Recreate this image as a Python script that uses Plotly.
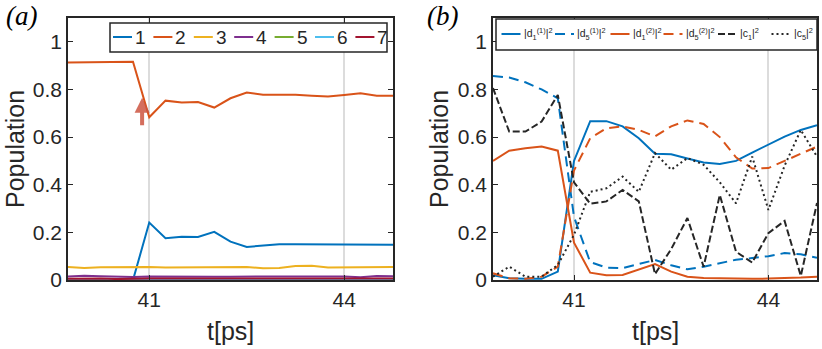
import plotly.graph_objects as go

# time axis (ps), shared by both panels
t = [39.75, 40.0, 40.25, 40.5, 40.75, 41.0, 41.25, 41.5, 41.75, 42.0, 42.25,
     42.5, 42.75, 43.0, 43.25, 43.5, 43.75, 44.0, 44.25, 44.5, 44.75]

# panel (a): populations of states 1..7
pop1 = [0.0, 0.0, 0.0, 0.0, 0.0, 0.241, 0.175, 0.182, 0.181, 0.202, 0.161,
        0.139, 0.146, 0.150, 0.150, 0.150, 0.150, 0.150, 0.149, 0.148, 0.148]
pop2 = [0.913, 0.914, 0.914, 0.915, 0.916, 0.683, 0.753, 0.745, 0.747, 0.724, 0.763,
        0.787, 0.778, 0.778, 0.778, 0.774, 0.770, 0.777, 0.784, 0.774, 0.774]
pop3 = [0.055, 0.050, 0.054, 0.055, 0.057, 0.055, 0.052, 0.052, 0.053, 0.053, 0.055,
        0.055, 0.049, 0.050, 0.059, 0.060, 0.052, 0.052, 0.053, 0.055, 0.055]
pop4 = [0.015, 0.018, 0.016, 0.014, 0.013, 0.015, 0.014, 0.016, 0.013, 0.014, 0.014,
        0.014, 0.015, 0.017, 0.015, 0.014, 0.016, 0.015, 0.012, 0.017, 0.016]
pop5 = [0.002, 0.002, 0.002, 0.002, 0.002, 0.002, 0.002, 0.002, 0.002, 0.002, 0.002,
        0.002, 0.002, 0.002, 0.002, 0.002, 0.002, 0.002, 0.002, 0.002, 0.002]
pop6 = [0.001, 0.001, 0.001, 0.001, 0.001, 0.001, 0.001, 0.001, 0.001, 0.001, 0.001,
        0.001, 0.001, 0.001, 0.001, 0.001, 0.001, 0.001, 0.001, 0.001, 0.001]
pop7 = [0.005, 0.007, 0.006, 0.004, 0.006, 0.006, 0.006, 0.005, 0.006, 0.006, 0.006,
        0.006, 0.006, 0.007, 0.006, 0.006, 0.006, 0.006, 0.006, 0.006, 0.006]
state_labels = ["1", "2", "3", "4", "5", "6", "7"]

# panel (b): amplitudes squared
d1_1 = [0.020, 0.007, 0.005, 0.005, 0.035, 0.500, 0.667, 0.667, 0.645, 0.595, 0.530,
        0.528, 0.510, 0.493, 0.487, 0.500, 0.535, 0.567, 0.602, 0.630, 0.650]
d5_1 = [0.857, 0.850, 0.830, 0.800, 0.763, 0.265, 0.075, 0.052, 0.050, 0.068, 0.084,
        0.062, 0.045, 0.056, 0.070, 0.085, 0.092, 0.100, 0.113, 0.108, 0.093]
d1_2 = [0.500, 0.543, 0.553, 0.560, 0.543, 0.157, 0.031, 0.020, 0.021, 0.045, 0.067,
        0.035, 0.014, 0.008, 0.006, 0.005, 0.005, 0.006, 0.007, 0.010, 0.014]
d5_2 = [0.028, 0.007, 0.005, 0.014, 0.056, 0.460, 0.595, 0.637, 0.645, 0.630, 0.603,
        0.645, 0.670, 0.655, 0.600, 0.515, 0.468, 0.470, 0.500, 0.530, 0.560]
c1 = [0.806, 0.623, 0.623, 0.665, 0.777, 0.410, 0.320, 0.330, 0.378, 0.330, 0.025,
      0.130, 0.260, 0.056, 0.357, 0.119, 0.073, 0.197, 0.248, 0.017, 0.323]
c5 = [0.014, 0.056, 0.014, 0.014, 0.063, 0.190, 0.370, 0.385, 0.434, 0.370, 0.533,
      0.463, 0.512, 0.484, 0.410, 0.322, 0.518, 0.294, 0.480, 0.630, 0.518]
amp_labels = ["|d<sub>1</sub><sup>(1)</sup>|<sup>2</sup>", "|d<sub>5</sub><sup>(1)</sup>|<sup>2</sup>",
              "|d<sub>1</sub><sup>(2)</sup>|<sup>2</sup>", "|d<sub>5</sub><sup>(2)</sup>|<sup>2</sup>",
              "|c<sub>1</sub>|<sup>2</sup>", "|c<sub>5</sub>|<sup>2</sup>"]

W, H = 822, 349
colors = ["#0072BD", "#D95319", "#EDB120", "#7E2F8E", "#77AC30", "#4DBEEE", "#A2142F"]
ink = "#262626"
FONT = "Liberation Sans, Arial, sans-serif"


def px(x):
    return x / W


def py(y):
    return 1 - y / H


fig = go.Figure()

for ys, c, name in zip([pop1, pop2, pop3, pop4, pop5, pop6, pop7], colors, state_labels):
    fig.add_trace(go.Scatter(x=t, y=ys, mode="lines", name=name, showlegend=False,
                             line=dict(color=c, width=2), xaxis="x", yaxis="y"))

b_styles = [(colors[0], "solid"), (colors[0], "10px,6px"), (colors[1], "solid"),
            (colors[1], "10px,6px"), (ink, "7px,3px"), (ink, "2px,3px")]
for ys, (c, dash), name in zip([d1_1, d5_1, d1_2, d5_2, c1, c5], b_styles, amp_labels):
    fig.add_trace(go.Scatter(x=t, y=ys, mode="lines", name=name, showlegend=False,
                             line=dict(color=c, width=2, dash=dash), xaxis="x2", yaxis="y2"))

axis_common = dict(
    range=[39.75, 44.75], tickvals=[41, 44], showgrid=True, gridcolor="#dcdcdc", gridwidth=1.5,
    zeroline=False, showline=True, linecolor=ink, linewidth=1.5, mirror="ticks",
    ticks="inside", ticklen=5, tickcolor=ink, tickwidth=1.2, automargin=False,
    tickfont=dict(family=FONT, size=21, color=ink),
)
yaxis_common = dict(
    range=[0, 1.1], tickvals=[0, 0.2, 0.4, 0.6, 0.8, 1], ticktext=["0", "0.2", "0.4", "0.6", "0.8", "1"],
    showgrid=False, zeroline=False, showline=True, linecolor=ink, linewidth=1.5, mirror="ticks",
    ticks="inside", ticklen=5, tickcolor=ink, tickwidth=1.2, automargin=False,
    tickfont=dict(family=FONT, size=21, color=ink),
    domain=[py(280), py(18)],
)

fig.update_layout(
    width=W, height=H, margin=dict(l=0, r=0, t=0, b=0),
    paper_bgcolor="white", plot_bgcolor="white", showlegend=False,
    xaxis=dict(axis_common, domain=[px(68), px(393)], anchor="y"),
    yaxis=dict(yaxis_common, anchor="x"),
    xaxis2=dict(axis_common, domain=[px(493), px(817)], anchor="y2"),
    yaxis2=dict(yaxis_common, anchor="x2"),
)

shapes = []
annotations = []

# axis titles
title_font = dict(family=FONT, size=25, color=ink)
for xc in [230.5, 655]:
    annotations.append(dict(text="t[ps]", xref="paper", yref="paper", x=px(xc), y=py(331),
                            xanchor="center", yanchor="middle", showarrow=False, font=title_font))
for xc in [15, 439]:
    annotations.append(dict(text="Population", xref="paper", yref="paper", x=px(xc), y=py(149),
                            xanchor="center", yanchor="middle", showarrow=False, textangle=-90,
                            font=title_font))

# legend (a)
shapes.append(dict(type="rect", xref="paper", yref="paper", x0=px(110), x1=px(387), y0=py(52), y1=py(23),
                   line=dict(color=ink, width=1.5), fillcolor="white"))
for i, (c, name) in enumerate(zip(colors, state_labels)):
    x0 = 113 + 40.4 * i
    shapes.append(dict(type="line", xref="paper", yref="paper", x0=px(x0), x1=px(x0 + 19),
                       y0=py(37), y1=py(37), line=dict(color=c, width=2)))
    annotations.append(dict(text=name, xref="paper", yref="paper", x=px(x0 + 20), y=py(37),
                            xanchor="left", yanchor="middle", showarrow=False,
                            font=dict(family=FONT, size=19, color=ink)))

# legend (b)
shapes.append(dict(type="rect", xref="paper", yref="paper", x0=px(496), x1=px(817), y0=py(50), y1=py(19),
                   line=dict(color=ink, width=1.5), fillcolor="white"))
b_starts = [501.5, 555, 610.5, 663.5, 718, 771.5]
for x0, (c, dash), name in zip(b_starts, b_styles, amp_labels):
    shapes.append(dict(type="line", xref="paper", yref="paper", x0=px(x0), x1=px(x0 + 19),
                       y0=py(34), y1=py(34), line=dict(color=c, width=2, dash=dash)))
    annotations.append(dict(text=name, xref="paper", yref="paper", x=px(x0 + 20), y=py(34),
                            xanchor="left", yanchor="middle", showarrow=False,
                            font=dict(family=FONT, size=10.5, color=ink)))

# panel labels
for label, x in [("(a)", 21), ("(b)", 443)]:
    annotations.append(dict(text=label, xref="paper", yref="paper", x=px(x), y=py(16),
                            xanchor="center", yanchor="middle", showarrow=False,
                            font=dict(family="Liberation Serif, Times New Roman, serif", size=27,
                                      color="black", style="italic")))

# arrow marking the jump
annotations.append(dict(x=40.89, y=0.765, ax=40.89, ay=0.643, xref="x", yref="y", axref="x", ayref="y",
                        text="", showarrow=True, arrowhead=2, arrowsize=0.75, arrowwidth=4,
                        arrowcolor="rgba(205,85,65,0.85)"))

fig.update_layout(shapes=shapes, annotations=annotations)
fig.write_html("out.html", config={"displayModeBar": False},
               post_script="document.body.style.margin='0';")
